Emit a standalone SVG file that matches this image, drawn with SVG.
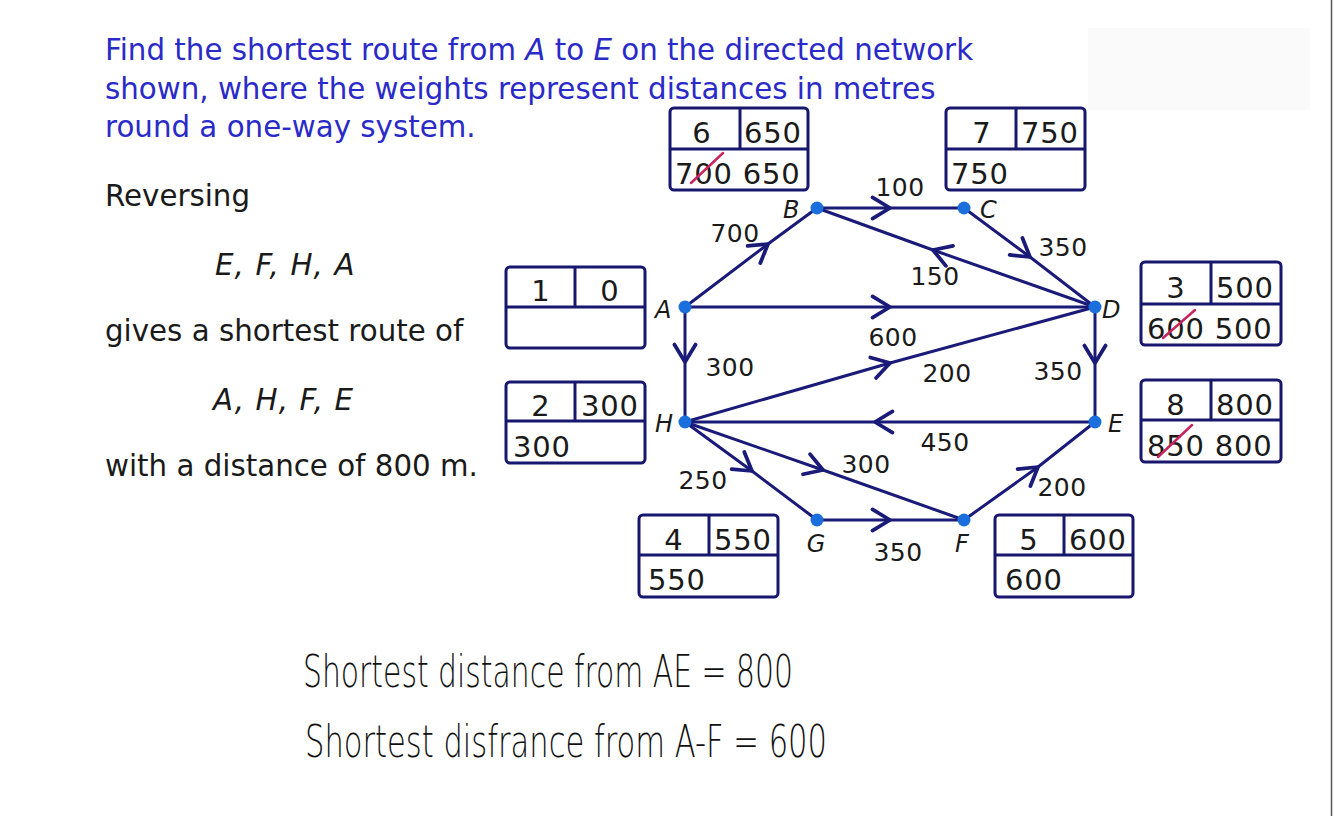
<svg xmlns="http://www.w3.org/2000/svg" width="1334" height="816" viewBox="0 0 1334 816">
<style>
.t{font-family:"DejaVu Sans",Verdana,sans-serif;}
.title{font-size:29.3px;fill:#2a2ac8;}
.body{font-size:29.3px;fill:#1a1a1a;}
.ital{font-style:italic;letter-spacing:1.1px;}
.box{fill:#fff;stroke:#17176e;stroke-width:3;}
.div{stroke:#17176e;stroke-width:3;}
.bt{font-family:"DejaVu Sans",Verdana,sans-serif;font-size:29px;letter-spacing:0.8px;fill:#1a1a1a;}
.el{font-family:"DejaVu Sans",Verdana,sans-serif;font-size:25px;letter-spacing:0.5px;fill:#1a1a1a;}
.nl{font-family:"DejaVu Sans",Verdana,sans-serif;font-size:24px;font-style:italic;fill:#1a1a1a;}
.edge{fill:none;stroke:#1a1a78;stroke-width:3;marker-mid:url(#chev);}
.dot{fill:#1a6fdc;}
.strike{stroke:#c8245e;stroke-width:2.5;stroke-linecap:round;}
.hw{font-family:"DejaVu Sans",sans-serif;font-weight:200;font-size:44px;fill:#111;}
</style>
<defs>
<marker id="chev" markerUnits="userSpaceOnUse" markerWidth="30" markerHeight="30" refX="0" refY="0" viewBox="-16 -12 20 24" orient="auto" overflow="visible">
<path d="M-14,-8.5 L0,0 L-14,8.5" fill="none" stroke="#1a1a78" stroke-width="3" stroke-linecap="round" stroke-linejoin="round"/>
</marker>
</defs>
<rect width="1334" height="816" fill="#fff"/>
<rect x="1088" y="28" width="222" height="82" fill="#fafafa"/>
<line x1="1331.5" y1="0" x2="1331.5" y2="816" stroke="#555" stroke-width="1.5"/>

<g id="problem-text">
<text class="t title" x="105" y="60">Find the shortest route from <tspan font-style="italic">A</tspan> to <tspan font-style="italic">E</tspan> on the directed network</text>
<text class="t title" x="105" y="99">shown, where the weights represent distances in metres</text>
<text class="t title" x="105" y="137">round a one-way system.</text>
</g>
<g id="solution-text">
<text class="t body" x="105" y="206">Reversing</text>
<text class="t body ital" x="215" y="275">E, F, H, A</text>
<text class="t body" x="105" y="341">gives a shortest route of</text>
<text class="t body ital" x="213" y="410">A, H, F, E</text>
<text class="t body" x="105" y="476">with a distance of 800 m.</text>
</g>

<g id="connectors">
<path id="e-AB" class="edge" d="M685,307 L768,244 L817,208"/>
<path id="e-BC" class="edge" d="M817,208 L890,208 L964,208"/>
<path id="e-CD" class="edge" d="M964,208 L1030,257 L1095,307"/>
<path id="e-DB" class="edge" d="M1095,307 L933,250 L817,208"/>
<path id="e-AD" class="edge" d="M685,307 L890,307 L1095,307"/>
<path id="e-AH" class="edge" d="M685,307 L685,362 L685,422"/>
<path id="e-HD" class="edge" d="M685,422 L890,363 L1095,307"/>
<path id="e-DE" class="edge" d="M1095,307 L1095,363 L1095,422"/>
<path id="e-EH" class="edge" d="M1095,422 L875,422 L685,422"/>
<path id="e-HG" class="edge" d="M685,422 L752,471 L817,520"/>
<path id="e-HF" class="edge" d="M685,422 L823,470 L964,520"/>
<path id="e-GF" class="edge" d="M817,520 L890,520 L964,520"/>
<path id="e-FE" class="edge" d="M964,520 L1038,467 L1095,422"/>
<g id="edge-labels">
<text class="el" x="735" y="242" text-anchor="middle">700</text>
<text class="el" x="900" y="196" text-anchor="middle">100</text>
<text class="el" x="1063" y="256" text-anchor="middle">350</text>
<text class="el" x="935" y="285" text-anchor="middle">150</text>
<text class="el" x="893" y="346" text-anchor="middle">600</text>
<text class="el" x="730" y="376" text-anchor="middle">300</text>
<text class="el" x="947" y="382" text-anchor="middle">200</text>
<text class="el" x="1058" y="380" text-anchor="middle">350</text>
<text class="el" x="945" y="451" text-anchor="middle">450</text>
<text class="el" x="866" y="473" text-anchor="middle">300</text>
<text class="el" x="703" y="489" text-anchor="middle">250</text>
<text class="el" x="1062" y="496" text-anchor="middle">200</text>
<text class="el" x="898" y="561" text-anchor="middle">350</text>
</g>
</g>

<g id="node-A"><circle class="dot" cx="685" cy="307" r="6.5"/><text class="nl" x="655" y="318">A</text>
<rect class="box" x="506" y="267" width="139" height="81" rx="4"/><line class="div" x1="506" y1="307" x2="645" y2="307"/><line class="div" x1="575" y1="267" x2="575" y2="307"/>
<text class="bt" x="541" y="301" text-anchor="middle">1</text><text class="bt" x="610" y="301" text-anchor="middle">0</text></g>

<g id="node-B"><circle class="dot" cx="817" cy="208" r="6.5"/><text class="nl" x="783" y="218">B</text>
<rect class="box" x="670" y="108" width="138" height="82" rx="4"/><line class="div" x1="670" y1="149" x2="808" y2="149"/><line class="div" x1="740" y1="108" x2="740" y2="149"/>
<text class="bt" x="702" y="143" text-anchor="middle">6</text><text class="bt" x="773" y="143" text-anchor="middle">650</text>
<text class="bt" x="675" y="184">700 650</text><line class="strike" x1="691" y1="183" x2="723" y2="153"/></g>

<g id="node-C"><circle class="dot" cx="964" cy="208" r="6.5"/><text class="nl" x="980" y="218">C</text>
<rect class="box" x="946" y="108" width="139" height="82" rx="4"/><line class="div" x1="946" y1="149" x2="1085" y2="149"/><line class="div" x1="1016" y1="108" x2="1016" y2="149"/>
<text class="bt" x="982" y="143" text-anchor="middle">7</text><text class="bt" x="1050" y="143" text-anchor="middle">750</text>
<text class="bt" x="951" y="184">750</text></g>

<g id="node-D"><circle class="dot" cx="1095" cy="307" r="6.5"/><text class="nl" x="1102" y="318">D</text>
<rect class="box" x="1141" y="262" width="140" height="83" rx="4"/><line class="div" x1="1141" y1="304" x2="1281" y2="304"/><line class="div" x1="1211" y1="262" x2="1211" y2="304"/>
<text class="bt" x="1176" y="298" text-anchor="middle">3</text><text class="bt" x="1245" y="298" text-anchor="middle">500</text>
<text class="bt" x="1147" y="339">600 500</text><line class="strike" x1="1163" y1="338" x2="1195" y2="310"/></g>

<g id="node-E"><circle class="dot" cx="1095" cy="422" r="6.5"/><text class="nl" x="1108" y="432">E</text>
<rect class="box" x="1141" y="380" width="140" height="82" rx="4"/><line class="div" x1="1141" y1="420" x2="1281" y2="420"/><line class="div" x1="1211" y1="380" x2="1211" y2="420"/>
<text class="bt" x="1176" y="415" text-anchor="middle">8</text><text class="bt" x="1245" y="415" text-anchor="middle">800</text>
<text class="bt" x="1147" y="456">850 800</text><line class="strike" x1="1158" y1="457" x2="1192" y2="425"/></g>

<g id="node-F"><circle class="dot" cx="964" cy="520" r="6.5"/><text class="nl" x="955" y="552">F</text>
<rect class="box" x="995" y="515" width="138" height="82" rx="4"/><line class="div" x1="995" y1="555" x2="1133" y2="555"/><line class="div" x1="1064" y1="515" x2="1064" y2="555"/>
<text class="bt" x="1029" y="550" text-anchor="middle">5</text><text class="bt" x="1098" y="550" text-anchor="middle">600</text>
<text class="bt" x="1005" y="590">600</text></g>

<g id="node-G"><circle class="dot" cx="817" cy="520" r="6.5"/><text class="nl" x="816" y="552" text-anchor="middle">G</text>
<rect class="box" x="639" y="515" width="139" height="82" rx="4"/><line class="div" x1="639" y1="555" x2="778" y2="555"/><line class="div" x1="709" y1="515" x2="709" y2="555"/>
<text class="bt" x="674" y="550" text-anchor="middle">4</text><text class="bt" x="743" y="550" text-anchor="middle">550</text>
<text class="bt" x="648" y="590">550</text></g>

<g id="node-H"><circle class="dot" cx="685" cy="422" r="6.5"/><text class="nl" x="655" y="432">H</text>
<rect class="box" x="506" y="382" width="139" height="81" rx="4"/><line class="div" x1="506" y1="421" x2="645" y2="421"/><line class="div" x1="575" y1="382" x2="575" y2="421"/>
<text class="bt" x="541" y="416" text-anchor="middle">2</text><text class="bt" x="610" y="416" text-anchor="middle">300</text>
<text class="bt" x="513" y="457">300</text></g>

<g id="handwritten-notes">
<text class="hw" x="303" y="687" textLength="490" lengthAdjust="spacingAndGlyphs">Shortest distance from AE = 800</text>
<text class="hw" x="305" y="757" textLength="522" lengthAdjust="spacingAndGlyphs">Shortest disfrance from A-F = 600</text>
</g>
</svg>
